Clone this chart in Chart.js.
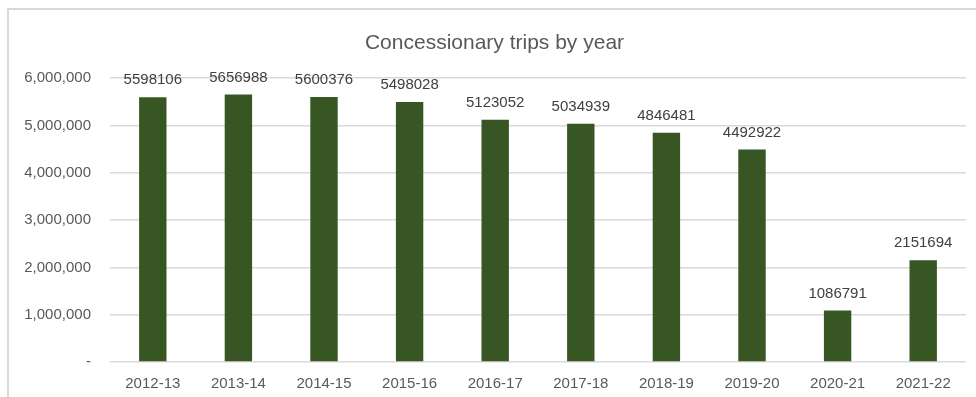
<!DOCTYPE html>
<html>
<head>
<meta charset="utf-8">
<script src="https://cdn.jsdelivr.net/npm/chart.js@4/dist/chart.umd.min.js"></script>
<style>
  body { margin: 0; background: #fff; }
  #wrap { position: relative; width: 976px; height: 397px; overflow: hidden; }
  #frame { position: absolute; left: 7px; top: 8px; width: 1200px; height: 600px;
           border-top: 2px solid #d9d9d9; border-left: 2px solid #d9d9d9; }
  canvas { position: absolute; left: 0; top: 0; }
</style>
</head>
<body>
<div id="wrap">
  <div id="frame"></div>
  <canvas id="tripsChart" width="976" height="397"></canvas>
</div>
<script>
// Данные
const years = ['2012-13', '2013-14', '2014-15', '2015-16', '2016-17', '2017-18', '2018-19', '2019-20', '2020-21', '2021-22'];
const trips = [5598106, 5656988, 5600376, 5498028, 5123052, 5034939, 4846481, 4492922, 1086791, 2151694];
const yMax = 6000000;
const yStep = 1000000;

const fontFamily = '"Liberation Sans", Arial, sans-serif';

// Подписи значений над столбцами
const valueLabels = {
    id: 'valueLabels',
    afterDatasetsDraw(chart) {
        const ctx = chart.ctx;
        const meta = chart.getDatasetMeta(0);
        ctx.save();
        ctx.font = '15px ' + fontFamily;
        ctx.fillStyle = '#404040';
        ctx.textAlign = 'center';
        ctx.textBaseline = 'middle';
        meta.data.forEach((bar, i) => {
            ctx.fillText(String(trips[i]), bar.x, bar.y - 17);
        });
        ctx.restore();
    }
};

const ctx = document.getElementById('tripsChart').getContext('2d');
new Chart(ctx, {
    type: 'bar',
    data: {
        labels: years,
        datasets: [{
            data: trips,
            backgroundColor: '#375623',
            borderWidth: 0,
            categoryPercentage: 1,
            barPercentage: 0.32
        }]
    },
    options: {
        responsive: false,
        animation: false,
        layout: { padding: { left: 23, right: 10, top: 20, bottom: 5 } },
        plugins: {
            legend: { display: false },
            tooltip: { enabled: false },
            title: {
                display: true,
                text: 'Concessionary trips by year',
                color: '#595959',
                font: { family: fontFamily, size: 21, weight: 'normal' },
                padding: { top: 11, bottom: 22 }
            }
        },
        scales: {
            x: {
                grid: { display: false },
                border: { display: false },
                ticks: {
                    color: '#595959',
                    font: { family: fontFamily, size: 15 },
                    padding: 5,
                    maxRotation: 0
                },
                afterFit: scale => { scale.height = 30; }
            },
            y: {
                min: 0,
                max: yMax,
                grid: { color: '#d9d9d9', lineWidth: 1.5, drawTicks: false },
                border: { display: false },
                ticks: {
                    stepSize: yStep,
                    color: '#595959',
                    font: { family: fontFamily, size: 15 },
                    padding: 19,
                    callback: v => v === 0 ? '-' : v.toLocaleString('en-US')
                },
                afterFit: scale => { scale.width = 87; }
            }
        }
    },
    plugins: [valueLabels]
});
</script>
</body>
</html>
